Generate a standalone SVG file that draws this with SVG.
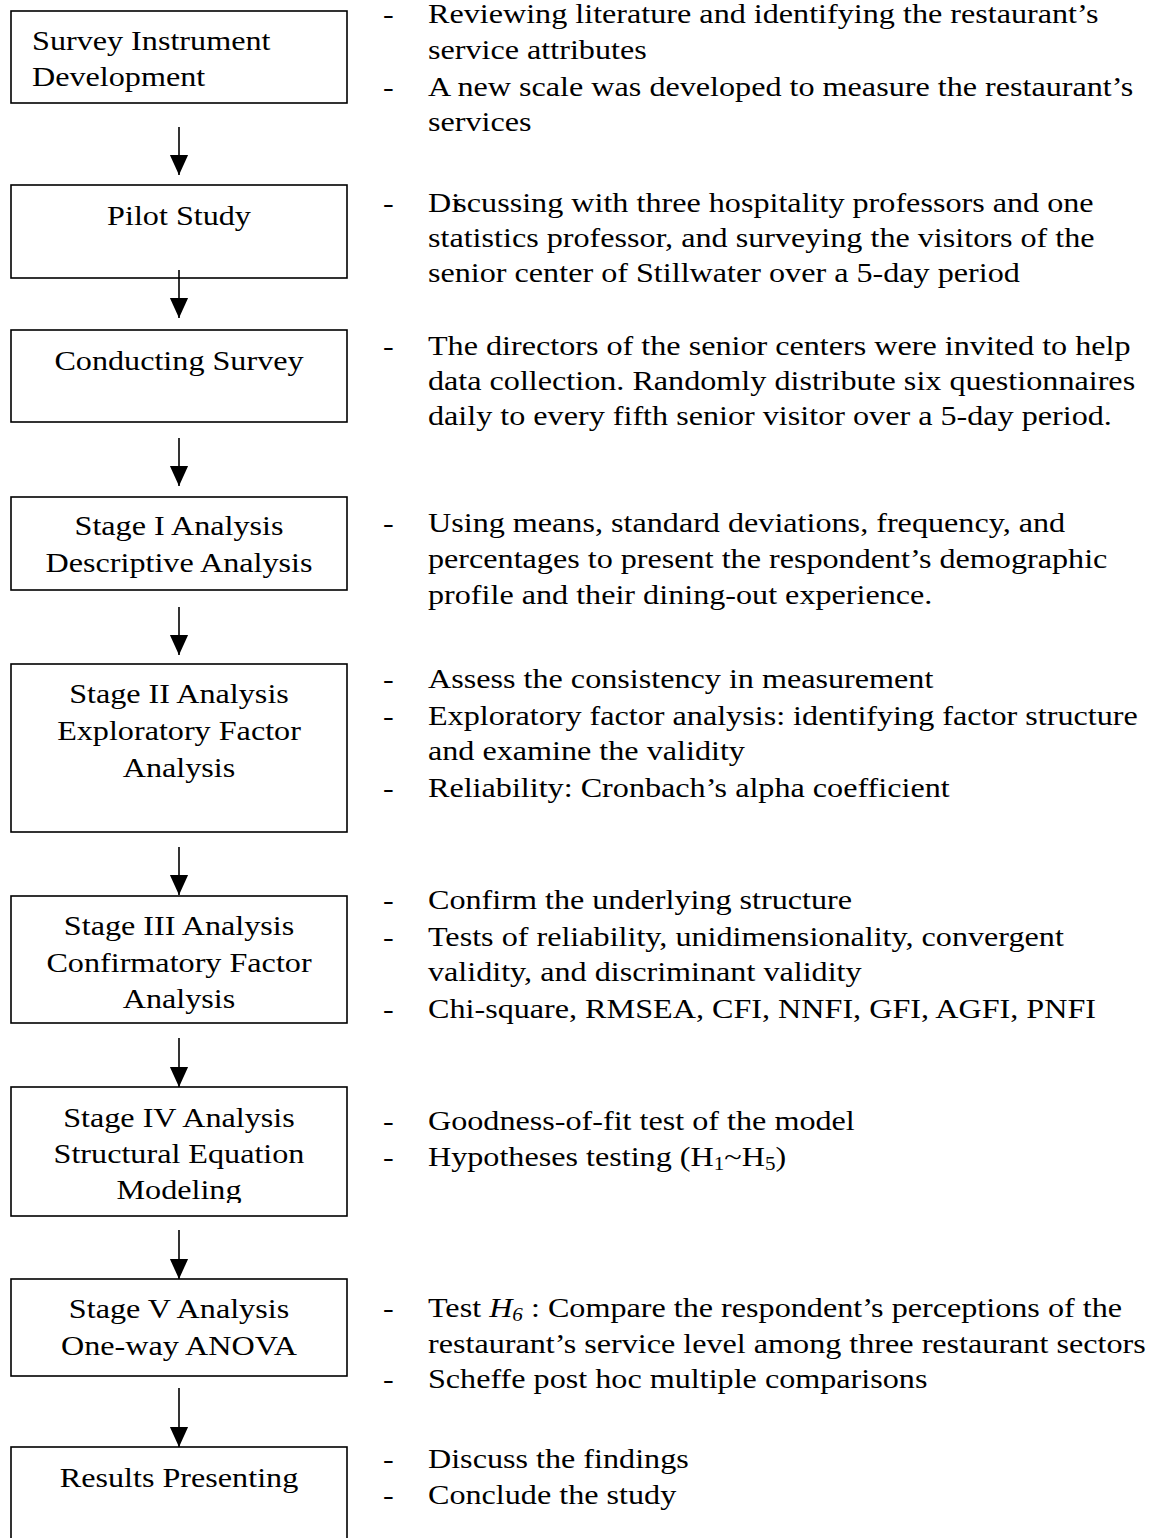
<svg xmlns="http://www.w3.org/2000/svg" width="1153" height="1538" viewBox="0 0 1153 1538">
  <style>
    .box { fill: #ffffff; stroke: #000000; stroke-width: 1.6; }
    .lbl { font-family: "Liberation Serif", "Times New Roman", serif; font-size: 27.5px; fill: #000000; text-anchor: middle; }
    .lbl-left { text-anchor: start; }
    .note { font-family: "Liberation Serif", "Times New Roman", serif; font-size: 27.5px; fill: #000000; }
    .sub { font-size: 18px; }
    .link { stroke: #000000; stroke-width: 1.6; fill: none; marker-end: url(#head); }
  </style>
  <defs>
    <marker id="head" markerUnits="userSpaceOnUse" markerWidth="20" markerHeight="22" refX="22" refY="10" orient="auto" viewBox="0 0 22 20">
      <path d="M0,0 L22,10 L0,20 Z" fill="#000000"/>
    </marker>
    <clipPath id="clip-sem">
      <rect x="0" y="1080" width="400" height="123"/>
    </clipPath>
  </defs>
  <rect width="1153" height="1538" fill="#ffffff"/>

  <!-- flow steps (left column) -->
  <g id="survey-instrument">
    <rect class="box" x="11" y="11" width="336" height="92"/>
    <g transform="scale(1.17 1)">
      <text class="lbl lbl-left" x="27.35" y="50">Survey Instrument</text>
      <text class="lbl lbl-left" x="27.35" y="86">Development</text>
    </g>
  </g>

  <g id="pilot-study">
    <rect class="box" x="11" y="185" width="336" height="93"/>
    <g transform="scale(1.17 1)">
      <text class="lbl" x="153" y="225">Pilot Study</text>
    </g>
  </g>

  <g id="conducting-survey">
    <rect class="box" x="11" y="330" width="336" height="92"/>
    <g transform="scale(1.17 1)">
      <text class="lbl" x="153" y="370">Conducting Survey</text>
    </g>
  </g>

  <g id="stage-1">
    <rect class="box" x="11" y="497" width="336" height="93"/>
    <g transform="scale(1.17 1)">
      <text class="lbl" x="153" y="535">Stage I Analysis</text>
      <text class="lbl" x="153" y="572">Descriptive Analysis</text>
    </g>
  </g>

  <g id="stage-2">
    <rect class="box" x="11" y="664" width="336" height="168"/>
    <g transform="scale(1.17 1)">
      <text class="lbl" x="153" y="703">Stage II Analysis</text>
      <text class="lbl" x="153" y="740">Exploratory Factor</text>
      <text class="lbl" x="153" y="777">Analysis</text>
    </g>
  </g>

  <g id="stage-3">
    <rect class="box" x="11" y="896" width="336" height="127"/>
    <g transform="scale(1.17 1)">
      <text class="lbl" x="153" y="935">Stage III Analysis</text>
      <text class="lbl" x="153" y="972">Confirmatory Factor</text>
      <text class="lbl" x="153" y="1008">Analysis</text>
    </g>
  </g>

  <g id="stage-4">
    <rect class="box" x="11" y="1087" width="336" height="129"/>
    <g clip-path="url(#clip-sem)">
      <g transform="scale(1.17 1)">
        <text class="lbl" x="153" y="1127">Stage IV Analysis</text>
        <text class="lbl" x="153" y="1163">Structural Equation</text>
        <text class="lbl" x="153" y="1199">Modeling</text>
      </g>
    </g>
  </g>

  <g id="stage-5">
    <rect class="box" x="11" y="1279" width="336" height="97"/>
    <g transform="scale(1.17 1)">
      <text class="lbl" x="153" y="1318">Stage V Analysis</text>
      <text class="lbl" x="153" y="1355">One-way ANOVA</text>
    </g>
  </g>

  <g id="results">
    <rect class="box" x="11" y="1447" width="336" height="110"/>
    <g transform="scale(1.17 1)">
      <text class="lbl" x="153" y="1487">Results Presenting</text>
    </g>
  </g>

  <!-- connectors between steps -->
  <g id="connectors">
    <line class="link" x1="179" y1="127" x2="179" y2="175"/>
    <line class="link" x1="179" y1="270" x2="179" y2="318"/>
    <line class="link" x1="179" y1="438" x2="179" y2="486"/>
    <line class="link" x1="179" y1="607" x2="179" y2="655"/>
    <line class="link" x1="179" y1="847" x2="179" y2="895"/>
    <line class="link" x1="179" y1="1038" x2="179" y2="1087"/>
    <line class="link" x1="179" y1="1230" x2="179" y2="1279"/>
    <line class="link" x1="179" y1="1388" x2="179" y2="1447"/>
  </g>

  <!-- step descriptions (right column) -->
  <g id="notes" class="note" transform="scale(1.17 1)">
    <text x="327.35" y="23">-</text>
    <text x="365.8" y="23">Reviewing literature and identifying the restaurant’s</text>
    <text x="365.8" y="59">service attributes</text>
    <text x="327.35" y="96">-</text>
    <text x="365.8" y="96">A new scale was developed to measure the restaurant’s</text>
    <text x="365.8" y="131">services</text>

    <text x="327.35" y="212">-</text>
    <text x="365.8" y="212">Di<tspan dx="-5">scussing with three hospitality professors and one</tspan></text>
    <text x="365.8" y="247">statistics professor, and surveying the visitors of the</text>
    <text x="365.8" y="282">senior center of Stillwater over a 5-day period</text>

    <text x="327.35" y="355">-</text>
    <text x="365.8" y="355">The directors of the senior centers were invited to help</text>
    <text x="365.8" y="390">data collection. Randomly distribute six questionnaires</text>
    <text x="365.8" y="425">daily to every fifth senior visitor over a 5-day period.</text>

    <text x="327.35" y="532">-</text>
    <text x="365.8" y="532">Using means, standard deviations, frequency, and</text>
    <text x="365.8" y="568">percentages to present the respondent’s demographic</text>
    <text x="365.8" y="604">profile and their dining-out experience.</text>

    <text x="327.35" y="688">-</text>
    <text x="365.8" y="688">Assess the consistency in measurement</text>
    <text x="327.35" y="725">-</text>
    <text x="365.8" y="725">Exploratory factor analysis: identifying factor structure</text>
    <text x="365.8" y="760">and examine the validity</text>
    <text x="327.35" y="797">-</text>
    <text x="365.8" y="797">Reliability: Cronbach’s alpha coefficient</text>

    <text x="327.35" y="909">-</text>
    <text x="365.8" y="909">Confirm the underlying structure</text>
    <text x="327.35" y="946">-</text>
    <text x="365.8" y="946">Tests of reliability, unidimensionality, convergent</text>
    <text x="365.8" y="981">validity, and discriminant validity</text>
    <text x="327.35" y="1018">-</text>
    <text x="365.8" y="1018">Chi-square, RMSEA, CFI, NNFI, GFI, AGFI, PNFI</text>

    <text x="327.35" y="1130">-</text>
    <text x="365.8" y="1130">Goodness-of-fit test of the model</text>
    <text x="327.35" y="1166">-</text>
    <text x="365.8" y="1166">Hypotheses testing (H<tspan class="sub" dy="4">1</tspan><tspan dy="-4">~H</tspan><tspan class="sub" dy="4">5</tspan><tspan dy="-4">)</tspan></text>

    <text x="327.35" y="1317">-</text>
    <text x="365.8" y="1317">Test <tspan font-style="italic">H</tspan><tspan class="sub" font-style="italic" dy="4">6</tspan><tspan dy="-4"> : Compare the respondent’s perceptions of the</tspan></text>
    <text x="365.8" y="1353">restaurant’s service level among three restaurant sectors</text>
    <text x="327.35" y="1388">-</text>
    <text x="365.8" y="1388">Scheffe post hoc multiple comparisons</text>

    <text x="327.35" y="1468">-</text>
    <text x="365.8" y="1468">Discuss the findings</text>
    <text x="327.35" y="1504">-</text>
    <text x="365.8" y="1504">Conclude the study</text>
  </g>
</svg>
